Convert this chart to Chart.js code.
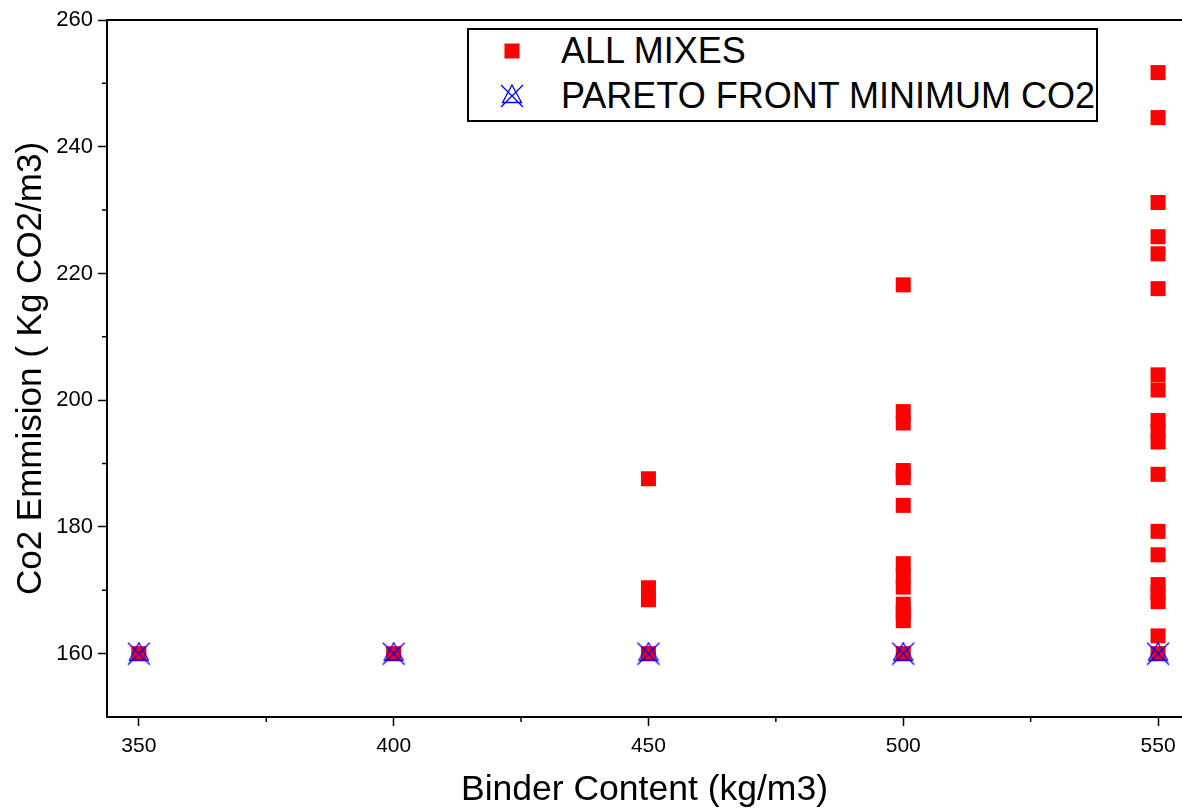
<!DOCTYPE html>
<html>
<head>
<meta charset="utf-8">
<title>Binder Content vs Co2 Emmision</title>
<script src="https://cdn.jsdelivr.net/npm/chart.js@4.4.1/dist/chart.umd.min.js"></script>
<style>
  html, body { margin: 0; padding: 0; background: #fff; overflow: hidden; }
  #wrap { position: relative; width: 1182px; height: 809px; }
  #legend {
    position: absolute; left: 467px; top: 28px; width: 631px; height: 94px;
    box-sizing: border-box; border: 2px solid #000; background: #fff;
    font-family: 'Liberation Sans', Arial, sans-serif; color: #000;
  }
  .row { position: absolute; left: 0; right: 0; height: 36px; font-size: 36px; line-height: 36px; white-space: nowrap; }
  .row span { position: absolute; left: 92px; top: 0; }
  .row .mark { position: absolute; left: 43px; top: 18px; transform: translate(-50%, -50%); }
</style>
</head>
<body>
<div id="wrap">
  <canvas id="chart" width="1182" height="809"></canvas>
  <div id="legend"></div>
</div>
<script>
// CO2 emission (kg CO2/m3) of every mix, grouped by binder content (kg/m3)
const mixes350 = [160];
const mixes400 = [160];
const mixes450 = [160, 168.5, 170.4, 187.6];
const mixes500 = [160, 165.2, 166.5, 167.8, 170.5, 172.3, 174.2, 183.4, 187.8, 188.9, 196.4, 198.2, 218.2];
const mixes550 = [160, 162.8, 168.2, 169.6, 170.9, 175.6, 179.3, 188.3, 193.4, 195.1, 196.8,
                  201.6, 204.0, 217.6, 223.1, 225.8, 231.2, 244.6, 251.7];

// pareto front (minimum CO2)
const paretoBinder = [350, 400, 450, 500, 550];
const paretoCo2 = [160, 160, 160, 160, 160];

const seriesLabels = ['ALL MIXES', 'PARETO FRONT MINIMUM CO2'];

// axis ticks
const xTicks = [350, 400, 450, 500, 550];
const xMinorTicks = [375, 425, 475, 525];
const yTicks = [160, 180, 200, 220, 240, 260];
const yMinorTicks = [170, 190, 210, 230, 250];

const FONT = "'Liberation Sans', Arial, Helvetica, sans-serif";

const allMixesPoints = [];
[[350, mixes350], [400, mixes400], [450, mixes450], [500, mixes500], [550, mixes550]]
  .forEach(([binder, vals]) => vals.forEach(v => allMixesPoints.push({ x: binder, y: v })));
const paretoPoints = paretoBinder.map((b, i) => ({ x: b, y: paretoCo2[i] }));

// blue "X + triangle" symbol
function paretoMarker() {
  const c = document.createElement('canvas');
  c.width = 24; c.height = 24;
  const g = c.getContext('2d');
  g.strokeStyle = '#0000ff';
  g.lineWidth = 1.3;
  g.beginPath();
  g.moveTo(1, 1); g.lineTo(23, 23);
  g.moveTo(23, 1); g.lineTo(1, 23);
  g.moveTo(12, 1); g.lineTo(21.5, 18.5); g.lineTo(2.5, 18.5); g.closePath();
  g.stroke();
  return c;
}

// top frame line + minor ticks
const frameAndMinorTicks = {
  id: 'frameAndMinorTicks',
  afterDraw(chart) {
    const { ctx, chartArea: a, scales: { x, y } } = chart;
    ctx.save();
    ctx.strokeStyle = '#000';
    ctx.lineWidth = 2;
    ctx.beginPath();
    ctx.moveTo(a.left - 1, a.top);
    ctx.lineTo(a.right, a.top);
    ctx.stroke();
    ctx.lineWidth = 1.5;
    ctx.beginPath();
    yMinorTicks.forEach(v => {
      const py = y.getPixelForValue(v);
      ctx.moveTo(a.left, py); ctx.lineTo(a.left - 5, py);
    });
    xMinorTicks.forEach(v => {
      const px = x.getPixelForValue(v);
      ctx.moveTo(px, a.bottom); ctx.lineTo(px, a.bottom + 5);
    });
    ctx.stroke();
    ctx.restore();
  }
};

const chart = new Chart(document.getElementById('chart'), {
  type: 'scatter',
  data: {
    datasets: [
      {
        label: seriesLabels[0],
        data: allMixesPoints,
        pointStyle: 'rect',
        pointRadius: 10.6,
        backgroundColor: '#ff0000',
        borderWidth: 0,
        order: 1
      },
      {
        label: seriesLabels[1],
        data: paretoPoints,
        pointStyle: paretoMarker(),
        pointRadius: 12,
        order: 0
      }
    ]
  },
  options: {
    responsive: false,
    animation: false,
    events: [],
    layout: { autoPadding: false, padding: { top: 20, left: 0, right: 0, bottom: 0 } },
    plugins: { legend: { display: false }, tooltip: { enabled: false } },
    scales: {
      x: {
        type: 'linear',
        min: 343.75,
        max: 554.7,
        afterBuildTicks: s => { s.ticks = xTicks.map(v => ({ value: v })); },
        afterFit: s => { s.height = 92; s.paddingLeft = 0; s.paddingRight = 0; },
        grid: { display: true, drawOnChartArea: false, drawTicks: true, tickLength: 9, tickWidth: 1.5, tickColor: '#000' },
        border: { display: true, color: '#000', width: 2 },
        ticks: { color: '#000', font: { family: FONT, size: 21 }, padding: 8, maxRotation: 0 },
        title: { display: true, text: 'Binder Content (kg/m3)', color: '#000',
                 font: { family: FONT, size: 35.5 }, padding: { top: 0, bottom: -3 } }
      },
      y: {
        type: 'linear',
        min: 150,
        max: 260,
        afterBuildTicks: s => { s.ticks = yTicks.map(v => ({ value: v })); },
        afterFit: s => { s.width = 107; },
        grid: { display: true, drawOnChartArea: false, drawTicks: true, tickLength: 9, tickWidth: 1.5, tickColor: '#000' },
        border: { display: true, color: '#000', width: 2 },
        ticks: { color: '#000', font: { family: FONT, size: 22 }, padding: 5 },
        title: { display: true, text: 'Co2 Emmision ( Kg CO2/m3)', color: '#000',
                 font: { family: FONT, size: 35 }, padding: { top: 10, bottom: 0 } }
      }
    }
  },
  plugins: [frameAndMinorTicks]
});

// legend box built from the datasets
const legend = document.getElementById('legend');
chart.data.datasets.forEach((ds, i) => {
  const row = document.createElement('div');
  row.className = 'row';
  row.style.top = (3.4 + i * 45) + 'px';
  let mark;
  if (ds.pointStyle === 'rect') {
    mark = document.createElement('div');
    mark.style.width = '15px';
    mark.style.height = '15px';
    mark.style.background = ds.backgroundColor;
  } else {
    mark = paretoMarker();
  }
  mark.classList.add('mark');
  const txt = document.createElement('span');
  txt.textContent = ds.label;
  row.appendChild(mark);
  row.appendChild(txt);
  legend.appendChild(row);
});
</script>
</body>
</html>
